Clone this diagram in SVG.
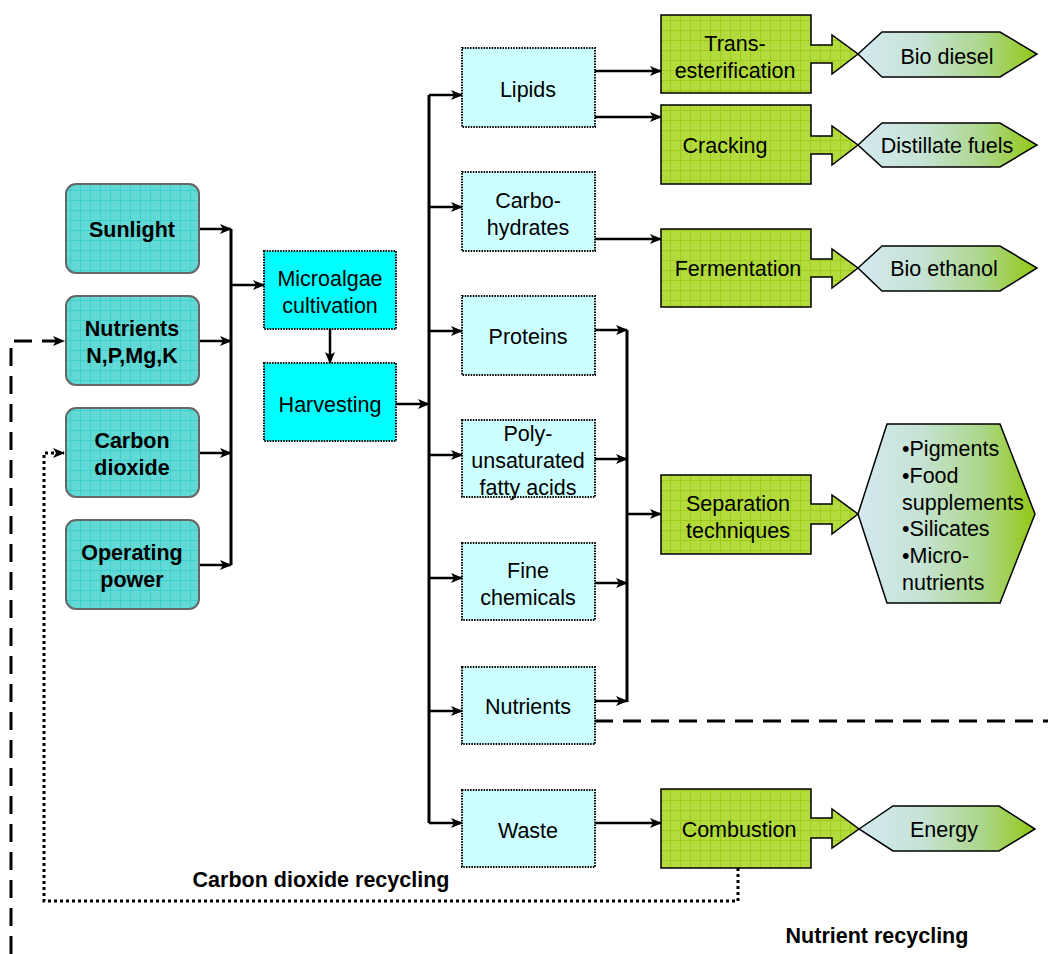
<svg xmlns="http://www.w3.org/2000/svg" width="1048" height="954" viewBox="0 0 1048 954">
<defs>
<pattern id="gridTeal" width="10" height="10" patternUnits="userSpaceOnUse">
<rect width="10" height="10" fill="#62d9d5"/>
<path d="M0,0.5 H10 M0.5,0 V10" stroke="#3fcfcc" stroke-width="1"/>
</pattern>
<pattern id="gridGreen" width="10" height="10" patternUnits="userSpaceOnUse">
<rect width="10" height="10" fill="#b4db3e"/>
<path d="M0,0.5 H10 M0.5,0 V10" stroke="#9fcc1a" stroke-width="1"/>
</pattern>
<linearGradient id="hexGrad" x1="0" y1="0" x2="1" y2="0">
<stop offset="0" stop-color="#d3e9ef"/>
<stop offset="0.35" stop-color="#c6e3d6"/>
<stop offset="0.7" stop-color="#acd68a"/>
<stop offset="1" stop-color="#92c814"/>
</linearGradient>
<marker id="arr" viewBox="0 0 12 10" refX="11" refY="5" markerWidth="12" markerHeight="10" markerUnits="userSpaceOnUse" orient="auto">
<path d="M0,0 L12,5 L0,10 L3,5 z" fill="#000"/>
</marker>
</defs>
<style>
.inp{fill:url(#gridTeal);stroke:#666;stroke-width:2}
.proc{fill:#00ffff;stroke:#000;stroke-width:2;stroke-dasharray:1.5 1.2}
.prod{fill:#ccffff;stroke:#000;stroke-width:2;stroke-dasharray:1.5 1.2}
.green{fill:url(#gridGreen);stroke:#000;stroke-width:1.5}
.hex{fill:url(#hexGrad);stroke:#000;stroke-width:1.5}
.t{font-family:"Liberation Sans",Arial,sans-serif;font-size:21.5px;fill:#000;text-anchor:middle}
.b{font-weight:bold}
.l{text-anchor:start}
.c{fill:none;stroke:#000;stroke-width:2.5}
.bus{fill:none;stroke:#000;stroke-width:3}
.ca{fill:none;stroke:#000;stroke-width:2.5;marker-end:url(#arr)}
</style>

<g id="connectors">
<path class="ca" d="M199,229 H231"/>
<path class="ca" d="M199,341 H231"/>
<path class="ca" d="M199,453 H231"/>
<path class="ca" d="M199,565 H231"/>
<path class="bus" d="M231,229 V565"/>
<path class="ca" d="M231,285 H264"/>
<path class="ca" d="M330,329 V363"/>
<path class="ca" d="M396,404 H429"/>
<path class="bus" d="M429,95 V823"/>
<path class="ca" d="M429,95 H462"/>
<path class="ca" d="M429,207 H462"/>
<path class="ca" d="M429,331 H462"/>
<path class="ca" d="M429,455 H462"/>
<path class="ca" d="M429,578 H462"/>
<path class="ca" d="M429,711 H462"/>
<path class="ca" d="M429,823 H462"/>
<path class="ca" d="M595,71 H661"/>
<path class="ca" d="M595,117 H661"/>
<path class="ca" d="M595,239 H661"/>
<path class="ca" d="M595,330 H627"/>
<path class="ca" d="M595,459 H627"/>
<path class="ca" d="M595,583 H627"/>
<path class="ca" d="M595,701 H627"/>
<path class="bus" d="M627,330 V702"/>
<path class="ca" d="M627,514 H661"/>
<path class="ca" d="M595,823 H661"/>
<path d="M595,721 H1048" fill="none" stroke="#000" stroke-width="3" stroke-dasharray="18 10"/>
<path d="M11,954 V341 H64" fill="none" stroke="#000" stroke-width="3" stroke-dasharray="18 10" marker-end="url(#arr)"/>
<path d="M738,868 V901 H44 V453 H64" fill="none" stroke="#000" stroke-width="3" stroke-dasharray="3 3" marker-end="url(#arr)"/>
</g>

<g id="sunlight"><rect class="inp" x="66" y="184" width="133" height="89" rx="10"/><text class="t b" x="132" y="237">Sunlight</text></g>
<g id="nutrients-in"><rect class="inp" x="66" y="296" width="133" height="89" rx="10"/><text class="t b" x="132" y="336">Nutrients</text><text class="t b" x="132" y="363">N,P,Mg,K</text></g>
<g id="carbon-dioxide"><rect class="inp" x="66" y="408" width="133" height="89" rx="10"/><text class="t b" x="132" y="448">Carbon</text><text class="t b" x="132" y="475">dioxide</text></g>
<g id="operating-power"><rect class="inp" x="66" y="520" width="133" height="89" rx="10"/><text class="t b" x="132" y="560">Operating</text><text class="t b" x="132" y="587">power</text></g>

<g id="microalgae"><rect class="proc" x="264" y="251" width="132" height="78"/><text class="t" x="330" y="286">Microalgae</text><text class="t" x="330" y="313">cultivation</text></g>
<g id="harvesting"><rect class="proc" x="264" y="363" width="132" height="78"/><text class="t" x="330" y="412">Harvesting</text></g>

<g id="lipids"><rect class="prod" x="462" y="48" width="133" height="79"/><text class="t" x="528" y="97">Lipids</text></g>
<g id="carbohydrates"><rect class="prod" x="462" y="172" width="133" height="79"/><text class="t" x="528" y="208">Carbo-</text><text class="t" x="528" y="235">hydrates</text></g>
<g id="proteins"><rect class="prod" x="462" y="296" width="133" height="79"/><text class="t" x="528" y="344">Proteins</text></g>
<g id="pufa"><rect class="prod" x="462" y="420" width="133" height="77"/><text class="t" x="528" y="441">Poly-</text><text class="t" x="528" y="468">unsaturated</text><text class="t" x="528" y="495">fatty acids</text></g>
<g id="fine-chemicals"><rect class="prod" x="462" y="543" width="133" height="77"/><text class="t" x="528" y="578">Fine</text><text class="t" x="528" y="605">chemicals</text></g>
<g id="nutrients-out"><rect class="prod" x="462" y="667" width="133" height="77"/><text class="t" x="528" y="714">Nutrients</text></g>
<g id="waste"><rect class="prod" x="462" y="790" width="133" height="77"/><text class="t" x="528" y="838">Waste</text></g>

<g id="transesterification"><path class="green" d="M661,15 H811 V45 H832 V35 L858,54 L832,74 V63 H811 V93 H661 Z"/><text class="t" x="735" y="51">Trans-</text><text class="t" x="735" y="78">esterification</text></g>
<g id="cracking"><path class="green" d="M661,105 H811 V136 H832 V126 L858,145 L832,165 V154 H811 V184 H661 Z"/><text class="t" x="725" y="153">Cracking</text></g>
<g id="fermentation"><path class="green" d="M661,229 H811 V259 H832 V249 L858,268 L832,288 V277 H811 V307 H661 Z"/><text class="t" x="738" y="276">Fermentation</text></g>
<g id="separation"><path class="green" d="M661,475 H811 V504 H832 V495 L858,514 L832,534 V524 H811 V554 H661 Z"/><text class="t" x="738" y="511">Separation</text><text class="t" x="738" y="538">techniques</text></g>
<g id="combustion"><path class="green" d="M661,789 H811 V818 H832 V809 L859,829 L832,848 V838 H811 V868 H661 Z"/><text class="t" x="739" y="837">Combustion</text></g>

<g id="bio-diesel"><path class="hex" d="M858,54 L882,32 H1000 L1037,54 L1000,77 H882 Z"/><text class="t" x="947" y="64">Bio diesel</text></g>
<g id="distillate-fuels"><path class="hex" d="M858,145 L882,123 H1000 L1037,145 L1000,167 H882 Z"/><text class="t" x="947" y="153">Distillate fuels</text></g>
<g id="bio-ethanol"><path class="hex" d="M858,268 L882,246 H1000 L1037,268 L1000,291 H882 Z"/><text class="t" x="944" y="276">Bio ethanol</text></g>
<g id="separation-products"><path class="hex" d="M858,514 L887,424 H1000 L1035,514 L1000,603 H887 Z"/>
<text class="t l" x="902" y="456">•Pigments</text><text class="t l" x="902" y="483">•Food</text><text class="t l" x="902" y="510">supplements</text><text class="t l" x="902" y="536">•Silicates</text><text class="t l" x="902" y="563">•Micro-</text><text class="t l" x="902" y="590">nutrients</text></g>
<g id="energy"><path class="hex" d="M859,829 L893,806 H999 L1035,829 L999,851 H893 Z"/><text class="t" x="944" y="837">Energy</text></g>

<g id="labels">
<text class="t b" x="321" y="887">Carbon dioxide recycling</text>
<text class="t b" x="877" y="943">Nutrient recycling</text>
</g>
</svg>
